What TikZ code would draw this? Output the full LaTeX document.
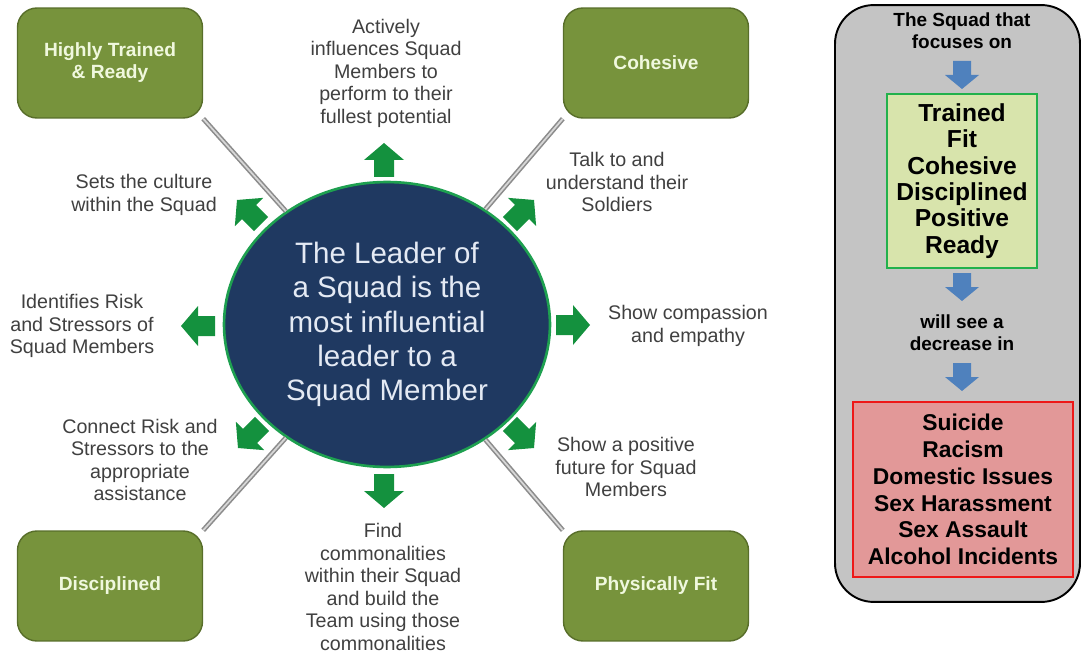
\documentclass[tikz,border=0pt]{standalone}
\usepackage{fontspec}
\setmainfont{Liberation Sans}
\usetikzlibrary{positioning,shapes.geometric}
\definecolor{leadnavy}{RGB}{31,57,97}
\definecolor{ringgreen}{RGB}{30,160,80}
\definecolor{leadtext}{RGB}{228,234,244}
\definecolor{olive}{RGB}{119,147,60}
\definecolor{olivedark}{RGB}{88,110,42}
\definecolor{traittext}{RGB}{240,248,222}
\definecolor{dutytext}{RGB}{64,64,64}
\definecolor{arrowgreen}{RGB}{20,145,62}
\definecolor{linkgray}{RGB}{140,140,140}
\definecolor{linkpale}{RGB}{215,215,215}
\definecolor{panelgray}{RGB}{196,196,196}
\definecolor{flowblue}{RGB}{79,129,189}
\definecolor{focusfill}{RGB}{216,228,172}
\definecolor{focusborder}{RGB}{34,177,76}
\definecolor{harmfill}{RGB}{226,152,152}
\definecolor{harmborder}{RGB}{238,24,24}
\tikzset{
    lead/.style = {
        ellipse,
        draw = ringgreen,
        line width = 1.5pt,
        fill = leadnavy,
        text = leadtext,
        minimum width = 6.52cm,
        minimum height = 5.7cm,
        inner sep = 0pt,
        align = center,
        font = \fontsize{16.8}{19.5}\selectfont,
        },
    trait/.style = {
        rectangle,
        rounded corners = 11pt,
        draw = olivedark,
        line width = 0.8pt,
        fill = olive,
        text = traittext,
        minimum width = 3.7cm,
        minimum height = 2.2cm,
        align = center,
        font = \bfseries\fontsize{10.9}{12.5}\selectfont,
        },
    duty/.style = {
        text = dutytext,
        inner sep = 0pt,
        align = center,
        font = \fontsize{11.2}{12.8}\selectfont,
        },
    link/.style = {
        draw = linkgray,
        double = linkpale,
        double distance = 1pt,
        line width = 0.9pt,
        },
    panel/.style = {
        rectangle,
        rounded corners = 22pt,
        draw = black,
        line width = 1.1pt,
        fill = panelgray,
        minimum width = 4.9cm,
        minimum height = 11.94cm,
        },
    note/.style = {
        inner sep = 0pt,
        align = center,
        font = \bfseries\fontsize{10.8}{12.5}\selectfont,
        },
    focus/.style = {
        rectangle,
        draw = focusborder,
        line width = 1.6pt,
        fill = focusfill,
        minimum width = 3cm,
        minimum height = 3.48cm,
        align = center,
        font = \bfseries\fontsize{14}{15}\selectfont,
        },
    harm/.style = {
        rectangle,
        draw = harmborder,
        line width = 1.6pt,
        fill = harmfill,
        minimum width = 4.4cm,
        minimum height = 3.5cm,
        align = center,
        font = \bfseries\fontsize{13}{15.2}\selectfont,
        },
    lead arrow/.pic = {
        \fill[arrowgreen] (-17,-10) -- (0,-10) -- (0,-20) -- (17,0)
            -- (0,20) -- (0,10) -- (-17,10) -- cycle;
        },
    flow arrow/.pic = {
        \fill[flowblue] (-14,-9) -- (0,-9) -- (0,-17) -- (14,0)
            -- (0,17) -- (0,9) -- (-14,9) -- cycle;
        },
}

\begin{document}
\begin{tikzpicture}[x=0.02cm, y=-0.02cm]
    \useasboundingbox (0,0) rectangle (1083,652);

    \node[lead] (L) at (387,324.5) {The Leader of\\a Squad is the\\most influential\\leader to a\\Squad Member};

    \node[trait] (T) at (110,63) {Highly Trained\\\& Ready};
    \node[trait] (C) at (656,63) {Cohesive};
    \node[trait] (D) at (110,586) {Disciplined};
    \node[trait] (F) at (656,586) {Physically Fit};

    \path[link] (T.south east) -- (L);
    \path[link] (C.south west) -- (L);
    \path[link] (D.north east) -- (L);
    \path[link] (F.north west) -- (L);

    % arrows round the leader
    \pic[rotate=90]  at (384,160) {lead arrow};
    \pic[rotate=135] at (249,212) {lead arrow};
    \pic[rotate=45]  at (522,212) {lead arrow};
    \pic[rotate=180] at (198,326) {lead arrow};
    \pic             at (573,325) {lead arrow};
    \pic[rotate=225] at (250,436) {lead arrow};
    \pic[rotate=-45] at (522,436) {lead arrow};
    \pic[rotate=-90] at (384,491) {lead arrow};

    \node[duty] (d1) at (386,73) {Actively\\influences Squad\\Members to\\perform to their\\fullest potential};
    \node[duty] (d2) at (144,195) {Sets the culture\\within the Squad};
    \node[duty] (d3) at (617,182) {Talk to and\\understand their\\Soldiers};
    \node[duty] (d4) at (82,326) {Identifies Risk\\and Stressors of\\Squad Members};
    \node[duty] (d5) at (688,326) {Show compassion\\and empathy};
    \node[duty] (d6) at (140,460) {Connect Risk and\\Stressors to the\\appropriate\\assistance};
    \node[duty] (d7) at (626,467) {Show a positive\\future for Squad\\Members};
    \node[duty] (d8) at (383,587) {Find\\commonalities\\within their Squad\\and build the\\Team using those\\commonalities};

    % right panel
    \node[panel] (P) at (957.5,303.5) {};
    \node[note] (n1) at (962,31) {The Squad that\\focuses on};
    \pic[rotate=-90] at (962,75) {flow arrow};
    \node[focus] (G) at (962,181) {Trained\\Fit\\Cohesive\\Disciplined\\Positive\\Ready};
    \pic[rotate=-90] at (962,287) {flow arrow};
    \node[note] (n2) at (962,333) {will see a\\decrease in};
    \pic[rotate=-90] at (962,377) {flow arrow};
    \node[harm] (R) at (963,489.5) {Suicide\\Racism\\Domestic Issues\\Sex Harassment\\Sex Assault\\Alcohol Incidents};
\end{tikzpicture}
\end{document}
